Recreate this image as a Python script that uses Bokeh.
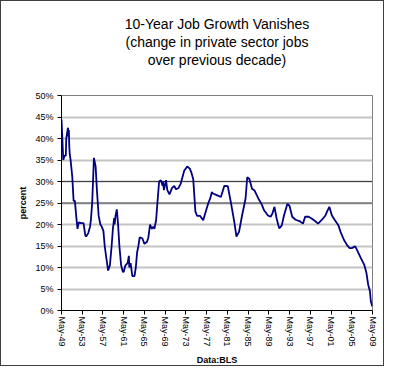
import pandas as pd
from bokeh.plotting import figure
from bokeh.models import (FixedTicker, DatetimeTickFormatter, PrintfTickFormatter,
                          Title, Span, Range1d)
from bokeh.embed import file_html
from bokeh.resources import INLINE

# ---- data ----
dates = ["1949-05", "1949-07", "1949-09", "1949-12", "1950-03", "1950-04", "1950-08", "1950-09",
         "1950-10", "1950-11", "1950-12", "1951-02", "1951-06", "1951-09", "1951-12", "1952-03",
         "1952-06", "1952-09", "1953-02", "1953-08", "1953-12", "1954-02", "1954-07", "1954-11",
         "1955-01", "1955-04", "1955-06", "1955-08", "1955-10", "1955-12", "1956-03", "1956-07",
         "1956-11", "1957-02", "1957-06", "1957-09", "1958-01", "1958-05", "1958-09", "1959-01",
         "1959-04", "1959-07", "1959-08", "1959-10", "1960-01", "1960-04", "1960-07", "1960-11",
         "1961-03", "1961-05", "1961-09", "1962-02", "1962-05", "1962-06", "1962-09", "1963-01",
         "1963-06", "1963-09", "1963-12", "1964-03", "1964-06", "1964-12", "1965-05", "1965-11",
         "1966-02", "1966-06", "1966-10", "1967-02", "1967-04", "1967-08", "1967-11", "1968-03",
         "1968-07", "1968-11", "1968-12", "1969-02", "1969-07", "1969-10", "1970-03", "1970-09",
         "1971-02", "1971-06", "1971-12", "1972-05", "1973-01", "1973-08", "1974-02", "1974-06",
         "1974-10", "1975-03", "1975-07", "1976-02", "1976-09", "1977-03", "1977-09", "1978-01",
         "1978-05", "1978-08", "1979-03", "1980-02", "1980-10", "1981-06", "1982-01", "1982-09",
         "1983-02", "1983-08", "1984-03", "1984-11", "1985-03", "1985-08", "1986-02", "1986-08",
         "1987-05", "1987-12", "1988-06", "1989-03", "1989-09", "1990-01", "1990-06", "1990-11",
         "1991-05", "1991-11", "1992-04", "1992-12", "1993-05", "1993-11", "1994-07", "1995-04",
         "1995-12", "1996-05", "1997-01", "1997-08", "1998-04", "1998-11", "1999-07", "2000-04",
         "2000-09", "2001-01", "2001-07", "2002-02", "2002-10", "2003-03", "2003-11", "2004-06",
         "2004-12", "2005-05", "2006-01", "2006-07", "2007-02", "2007-10", "2008-03", "2008-07",
         "2008-11", "2009-01", "2009-04", "2009-05"]
pct = [44.4, 40.0, 35.0, 36.0, 36.0, 40.0, 42.5, 40.5,
       42.0, 38.0, 36.5, 35.0, 31.0, 25.5, 25.5, 22.0,
       19.0, 20.5, 20.3, 20.3, 17.5, 17.2, 18.0, 19.5,
       21.0, 25.0, 30.0, 35.5, 34.5, 33.5, 28.0, 22.0,
       20.0, 19.5, 18.5, 15.0, 12.0, 9.3, 10.5, 15.0,
       19.0, 21.5, 20.0, 22.0, 23.5, 20.0, 15.0, 10.5,
       9.0, 9.0, 10.5, 11.0, 12.7, 10.0, 11.0, 8.0,
       8.0, 10.0, 13.5, 15.0, 17.0, 16.8, 15.5, 16.0,
       17.0, 20.0, 19.0, 19.5, 19.0, 21.0, 25.0, 30.0,
       30.3, 29.0, 30.0, 28.0, 30.3, 28.0, 27.0, 28.5,
       29.0, 28.2, 28.5, 29.5, 32.5, 33.5, 33.0, 32.0,
       30.5, 23.0, 22.0, 22.0, 21.0, 23.0, 25.0, 26.0,
       27.5, 27.2, 26.9, 26.4, 29.0, 28.9, 25.2, 20.6,
       17.2, 18.3, 22.1, 26.0, 31.0, 30.6, 28.3, 27.9,
       26.0, 24.8, 23.3, 22.1, 21.8, 22.5, 24.1, 21.4,
       19.1, 19.8, 22.1, 24.8, 24.3, 21.8, 21.1, 20.8,
       20.2, 21.8, 21.8, 21.4, 20.8, 20.2, 21.0, 22.1,
       23.3, 24.1, 22.1, 21.0, 19.8, 18.3, 16.4, 15.2,
       14.5, 14.5, 14.9, 13.7, 12.2, 10.6, 8.7, 6.0,
       4.5, 2.2, 1.1, 1.0]
tick_dates = ["1949-05", "1953-05", "1957-05", "1961-05", "1965-05", "1969-05", "1973-05",
              "1977-05", "1981-05", "1985-05", "1989-05", "1993-05", "1997-05", "2001-05",
              "2005-05", "2009-05"]
y_ticks = [0, 5, 10, 15, 20, 25, 30, 35, 40, 45, 50]
title_lines = ["10-Year Job Growth Vanishes", "(change in private sector jobs",
               "over previous decade)"]

x = pd.to_datetime(dates)
tick_ms = [pd.Timestamp(d).value // 10**6 for d in tick_dates]

FONT = "Liberation Sans"

p = figure(width=384, height=366, x_axis_type="datetime", output_backend="svg",
           toolbar_location=None, title=None,
           min_border_left=60, min_border_right=13, min_border_top=94, min_border_bottom=10)
p.styles = {"border": "1px solid #404040"}

p.x_range = Range1d(pd.Timestamp(tick_dates[0]), pd.Timestamp(tick_dates[-1]))
p.y_range = Range1d(0, 50)

# spacer between the title block and the plot area
p.add_layout(Title(text=" ", text_font=FONT, text_font_size="23px", standoff=0), "above")
# titles (bottom line first so that it sits nearest the plot)
for line in reversed(title_lines):
    t = Title(text=line, align="center", text_font=FONT, text_font_size="14px",
              text_font_style="normal", text_color="black", standoff=0)
    p.add_layout(t, "above")

# y axis
p.yaxis.ticker = FixedTicker(ticks=y_ticks)
p.yaxis.formatter = PrintfTickFormatter(format="%d%%")
p.yaxis.axis_label = "percent"
p.yaxis.axis_label_text_font = FONT
p.yaxis.axis_label_text_font_size = "9px"
p.yaxis.axis_label_text_font_style = "bold"
p.yaxis.axis_label_standoff = 4
p.yaxis.major_label_text_font = FONT
p.yaxis.major_label_text_font_size = "9px"
p.yaxis.major_label_standoff = 4
p.yaxis.major_tick_out = 4
p.yaxis.major_tick_in = 0
p.yaxis.minor_tick_out = 0
p.yaxis.minor_tick_in = 0

# x axis
p.xaxis.ticker = FixedTicker(ticks=tick_ms)
fmt = "%b-%y"
p.xaxis.formatter = DatetimeTickFormatter(years=fmt, months=fmt, days=fmt, hours=fmt,
                                          context=None)
p.xaxis.major_label_orientation = "vertical"
p.xaxis.axis_label = "Data:BLS"
p.xaxis.axis_label_text_font = FONT
p.xaxis.axis_label_text_font_size = "9px"
p.xaxis.axis_label_text_font_style = "bold"
p.xaxis.axis_label_standoff = 5
p.xaxis.major_label_text_font = FONT
p.xaxis.major_label_text_font_size = "9px"
p.xaxis.major_label_standoff = 2
p.xaxis.major_tick_out = 4
p.xaxis.major_tick_in = 0
p.xaxis.minor_tick_out = 0
p.xaxis.minor_tick_in = 0

for ax in (p.xaxis, p.yaxis):
    ax.axis_line_color = "black"
    ax.major_tick_line_color = "black"
    ax.major_label_text_color = "black"
    ax.axis_label_text_color = "black"

# grid
p.xgrid.grid_line_color = None
p.ygrid.ticker = FixedTicker(ticks=y_ticks)
p.ygrid.grid_line_color = "#c4c4c4"
p.ygrid.grid_line_width = 2
for lvl in (25, 30):
    p.add_layout(Span(location=lvl, dimension="width", line_color="#404040",
                      line_width=1, level="underlay"))

p.outline_line_color = "#808080"
p.outline_line_width = 1
p.background_fill_color = "white"
p.border_fill_color = "white"

p.line(x, pct, line_color="#000080", line_width=1.8)

open("out.html", "w").write(file_html(p, INLINE))
